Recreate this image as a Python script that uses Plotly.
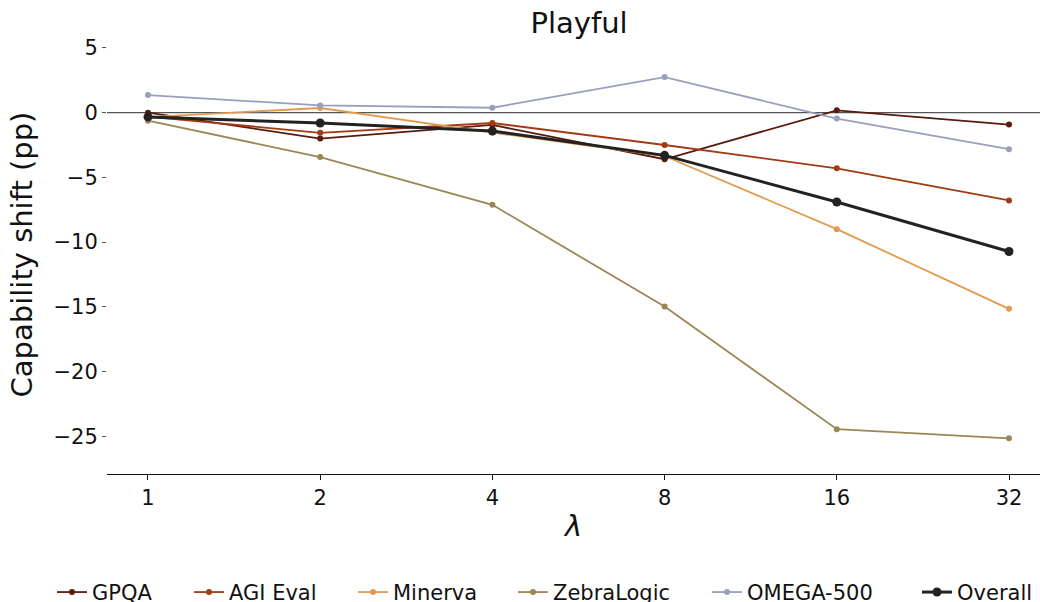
import plotly.graph_objects as go

lambdas = ["1", "2", "4", "8", "16", "32"]
gpqa = [0.0, -2.0, -0.95, -3.6, 0.18, -0.92]
agi_eval = [-0.3, -1.56, -0.8, -2.5, -4.3, -6.78]
minerva = [-0.35, 0.36, -1.54, -3.35, -9.0, -15.16]
zebralogic = [-0.62, -3.43, -7.12, -14.98, -24.46, -25.16]
omega500 = [1.36, 0.56, 0.38, 2.75, -0.46, -2.82]
overall = [-0.33, -0.8, -1.42, -3.3, -6.9, -10.73]

series = [
    ("GPQA", gpqa, "#5a1a0c", 1.8, 6),
    ("AGI Eval", agi_eval, "#a33a12", 1.8, 6),
    ("Minerva", minerva, "#e39a4f", 1.8, 6),
    ("ZebraLogic", zebralogic, "#9b8755", 1.8, 6),
    ("OMEGA-500", omega500, "#9a9fbb", 1.8, 6),
    ("Overall", overall, "#222222", 3.0, 9),
]
# left pixel of each legend entry's line sample
legend_line_px = [57, 194, 358, 518, 712, 922]

FONT = "DejaVu Sans"
W, H = 1040, 602
fig = go.Figure()

fig.add_shape(type="line", xref="paper", x0=0, x1=1, yref="y", y0=0, y1=0,
              line=dict(color="#555555", width=1.2), layer="below")

legend_layouts = {}
for i, (name, vals, col, lw, ms) in enumerate(series):
    lg = "legend" if i == 0 else f"legend{i + 1}"
    fig.add_trace(go.Scatter(x=lambdas, y=vals, name=name, mode="lines+markers",
                             line=dict(color=col, width=lw),
                             marker=dict(color=col, size=ms), legend=lg))
    legend_layouts[lg] = dict(
        orientation="h", xref="container", yref="container",
        x=(legend_line_px[i] - 5) / W, xanchor="left",
        y=0.05, yanchor="top",
        font=dict(size=21, family=FONT, color="#111111"),
        itemwidth=30, bgcolor="rgba(0,0,0,0)")

fig.update_layout(
    width=W, height=H,
    margin=dict(l=107, r=0, t=35, b=128),
    paper_bgcolor="white", plot_bgcolor="white",
    font=dict(family=FONT, color="#111111", size=21),
    title=dict(text="Playful", xref="container", x=579 / W, xanchor="center",
               y=0.962, yanchor="middle",
               font=dict(size=29, family=FONT, color="#111111")),
    xaxis=dict(type="category", range=[-0.238, 5.18], showgrid=False, zeroline=False,
               showline=True, linecolor="#111111", linewidth=1.2,
               ticks="outside", ticklen=5, tickcolor="#111111",
               tickfont=dict(size=21, family=FONT),
               title=dict(text="<i>λ</i>", font=dict(size=29, family=FONT), standoff=6)),
    yaxis=dict(range=[-27.92, 6.0], showgrid=False, zeroline=False, showline=False,
               tickvals=[5, 0, -5, -10, -15, -20, -25],
               ticks="outside", ticklen=4, tickcolor="#555555",
               tickfont=dict(size=21, family=FONT),
               title=dict(text="Capability shift (pp)", font=dict(size=29, family=FONT), standoff=12)),
    showlegend=True,
    **legend_layouts,
)

fig.write_html("out.html")
